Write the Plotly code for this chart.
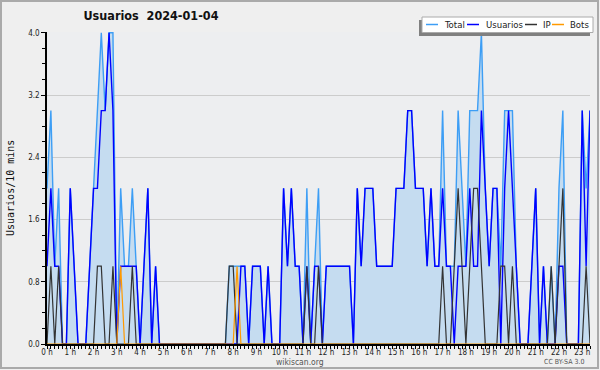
import plotly.graph_objects as go

# 10-minute slots from 00:00 to 23:20
slot_hours = [i / 6 for i in range(141)]

total = [2, 3, 1, 2, 0, 0, 2, 1, 0, 0,
         0, 1, 2, 3, 4, 3, 4, 4, 0, 2,
         1, 1, 2, 1, 0, 1, 2, 0, 1, 0,
         0, 0, 0, 0, 0, 0, 0, 0, 0, 0,
         0, 0, 0, 0, 0, 0, 0, 1, 1, 1,
         1, 1, 0, 1, 1, 1, 0, 1, 0, 0,
         0, 2, 1, 2, 1, 1, 0, 2, 0, 1,
         2, 0, 1, 1, 1, 1, 1, 1, 1, 0,
         2, 1, 2, 2, 2, 1, 1, 1, 1, 1,
         2, 2, 2, 3, 3, 2, 2, 2, 1, 2,
         1, 1, 3, 1, 1, 1, 3, 2, 1, 3,
         3, 3, 4, 2, 1, 2, 2, 1, 3, 3,
         3, 1, 0, 0, 0, 1, 2, 0, 1, 0,
         1, 0, 2, 3, 0, 0, 0, 0, 3, 2,
         3]

usuarios = [1, 2, 1, 1, 0, 0, 2, 1, 0, 0,
            0, 1, 2, 2, 3, 3, 4, 3, 0, 1,
            1, 1, 1, 1, 0, 1, 2, 0, 1, 0,
            0, 0, 0, 0, 0, 0, 0, 0, 0, 0,
            0, 0, 0, 0, 0, 0, 0, 0, 0, 0,
            1, 1, 0, 1, 1, 1, 0, 1, 0, 0,
            0, 2, 1, 2, 1, 1, 0, 1, 0, 1,
            1, 0, 1, 1, 1, 1, 1, 1, 1, 0,
            2, 1, 2, 2, 2, 1, 1, 1, 1, 1,
            2, 2, 2, 3, 3, 2, 2, 2, 1, 2,
            1, 1, 2, 1, 1, 0, 1, 1, 1, 2,
            1, 1, 3, 2, 1, 2, 2, 0, 2, 3,
            2, 1, 0, 0, 0, 1, 2, 0, 1, 0,
            0, 0, 1, 1, 0, 0, 0, 0, 3, 1,
            3]

ip = [0, 1, 0, 1, 0, 0, 0, 0, 0, 0,
      0, 0, 0, 1, 1, 0, 0, 1, 0, 0,
      0, 0, 1, 0, 0, 0, 0, 0, 0, 0,
      0, 0, 0, 0, 0, 0, 0, 0, 0, 0,
      0, 0, 0, 0, 0, 0, 0, 1, 1, 0,
      0, 0, 0, 0, 0, 0, 0, 0, 0, 0,
      0, 0, 0, 0, 0, 0, 0, 1, 0, 0,
      1, 0, 0, 0, 0, 0, 0, 0, 0, 0,
      0, 0, 0, 0, 0, 0, 0, 0, 0, 0,
      0, 0, 0, 0, 0, 0, 0, 0, 0, 0,
      0, 0, 1, 0, 0, 1, 2, 1, 0, 1,
      2, 2, 1, 0, 0, 0, 0, 1, 1, 0,
      1, 0, 0, 0, 0, 0, 0, 0, 0, 0,
      1, 0, 1, 2, 0, 0, 0, 0, 0, 1,
      0]

bots = [0] * 141
bots_at = {19: 1, 49: 1}
for k, v in bots_at.items():
    bots[k] = v

hour_ticks = list(range(24))
hour_labels = [f"{h} h" for h in hour_ticks]
y_ticks = [0, 0.8, 1.6, 2.4, 3.2, 4.0]
y_labels = ["0.0", "0.8", "1.6", "2.4", "3.2", "4.0"]

series_names = ["Total", "Usuarios", "IP", "Bots"]
series_colors = ["#3d9ef5", "#0000ff", "#333333", "#ff9a00"]

W, H = 600, 370
L, R, T, B = 47, 10, 32, 26
PW, PH = W - L - R, H - T - B


def px(x):
    return (x - L) / PW


def py(y):
    return (H - B - y) / PH


fig = go.Figure()
fig.add_trace(go.Scatter(x=slot_hours, y=total, name="Total", mode="lines",
                         line=dict(color=series_colors[0], width=1.4),
                         fill="tozeroy", fillcolor="#c5dcf0", showlegend=False))
fig.add_trace(go.Scatter(x=slot_hours, y=usuarios, name="Usuarios", mode="lines",
                         line=dict(color=series_colors[1], width=1.4), showlegend=False))
fig.add_trace(go.Scatter(x=slot_hours, y=ip, name="IP", mode="lines",
                         line=dict(color=series_colors[2], width=1.2), showlegend=False))
fig.add_trace(go.Scatter(x=slot_hours, y=bots, name="Bots", mode="lines",
                         line=dict(color=series_colors[3], width=1.2), showlegend=False))

tickfont = dict(family="DejaVu Sans Condensed, DejaVu Sans", size=8, color="#222")

fig.update_xaxes(range=[0, 140 / 6], tickmode="array", tickvals=hour_ticks,
                 ticktext=hour_labels, ticks="outside", ticklen=3, tickcolor="black",
                 showline=True, linecolor="black", linewidth=2, showgrid=False,
                 zeroline=False, tickfont=tickfont, ticklabelstandoff=-4,
                 minor=dict(tickmode="linear", tick0=0, dtick=1 / 6, ticks="outside",
                            ticklen=3, tickcolor="black", showgrid=False))
fig.update_yaxes(range=[0, 4.01], tickmode="array", tickvals=y_ticks, ticktext=y_labels,
                 ticks="outside", ticklen=4, tickcolor="black",
                 showline=True, linecolor="black", linewidth=1.5,
                 showgrid=True, gridcolor="#cccccc", gridwidth=1, zeroline=False,
                 tickfont=tickfont,
                 minor=dict(tickmode="linear", tick0=0, dtick=0.2, ticks="outside",
                            ticklen=3, tickcolor="black", showgrid=False))

shapes = []
annotations = []
# outer frame
shapes.append(dict(type="rect", xref="paper", yref="paper", x0=px(1), x1=px(598),
                   y0=py(1), y1=py(368), line=dict(color="#aaaaaa", width=2),
                   fillcolor="rgba(0,0,0,0)", layer="below"))
# legend shadow + box
shapes.append(dict(type="rect", xref="paper", yref="paper", x0=px(419), x1=px(590),
                   y0=py(20), y1=py(36), line=dict(width=0), fillcolor="#808080"))
shapes.append(dict(type="rect", xref="paper", yref="paper", x0=px(422), x1=px(593),
                   y0=py(17), y1=py(32.5), line=dict(color="#aaaaaa", width=1),
                   fillcolor="white"))
legend_line_x = [(426, 438), (467, 479), (525, 537), (552, 564)]
legend_text_x = [442, 484, 541, 568]
for name, col, (a, b), tx in zip(series_names, series_colors, legend_line_x, legend_text_x):
    shapes.append(dict(type="line", xref="paper", yref="paper", x0=px(a), x1=px(b),
                       y0=py(24.5), y1=py(24.5), line=dict(color=col, width=1.5)))
    annotations.append(dict(text=name, xref="paper", yref="paper", x=px(tx), y=py(24.5),
                            xanchor="left", yanchor="middle", showarrow=False,
                            font=dict(family="DejaVu Sans Condensed, DejaVu Sans", size=9.5, color="#222")))

annotations.append(dict(text="Usuarios/10 mins", xref="paper", yref="paper",
                        x=px(10), y=py(188), textangle=-90, showarrow=False,
                        xanchor="center", yanchor="middle",
                        font=dict(family="DejaVu Sans Mono", size=10, color="#111")))
annotations.append(dict(text="wikiscan.org", xref="paper", yref="paper",
                        x=px(300), y=py(362), showarrow=False, xanchor="center", yanchor="middle",
                        font=dict(family="DejaVu Sans Condensed, DejaVu Sans", size=8.5, color="#555")))
annotations.append(dict(text="CC BY-SA 3.0", xref="paper", yref="paper",
                        x=px(564), y=py(362), showarrow=False, xanchor="center", yanchor="middle",
                        font=dict(family="DejaVu Sans Condensed, DejaVu Sans", size=7, color="#555")))

fig.update_layout(
    width=W, height=H,
    margin=dict(l=L, r=R, t=T, b=B),
    paper_bgcolor="#efefef", plot_bgcolor="#edeef0",
    title=dict(text="Usuarios\u00a0\u00a02024-01-04", x=151 / W, xanchor="center",
               y=1 - 16 / H, yanchor="middle",
               font=dict(family="DejaVu Sans Condensed, DejaVu Sans", size=12.5, color="#111",
                         weight="bold")),
    shapes=shapes, annotations=annotations, showlegend=False,
)

fig.write_html("out.html", config={"displayModeBar": False},
               post_script="document.body.style.margin='0';"
                           "document.body.style.background='#efefef';"
                           "document.body.style.overflow='hidden';")
